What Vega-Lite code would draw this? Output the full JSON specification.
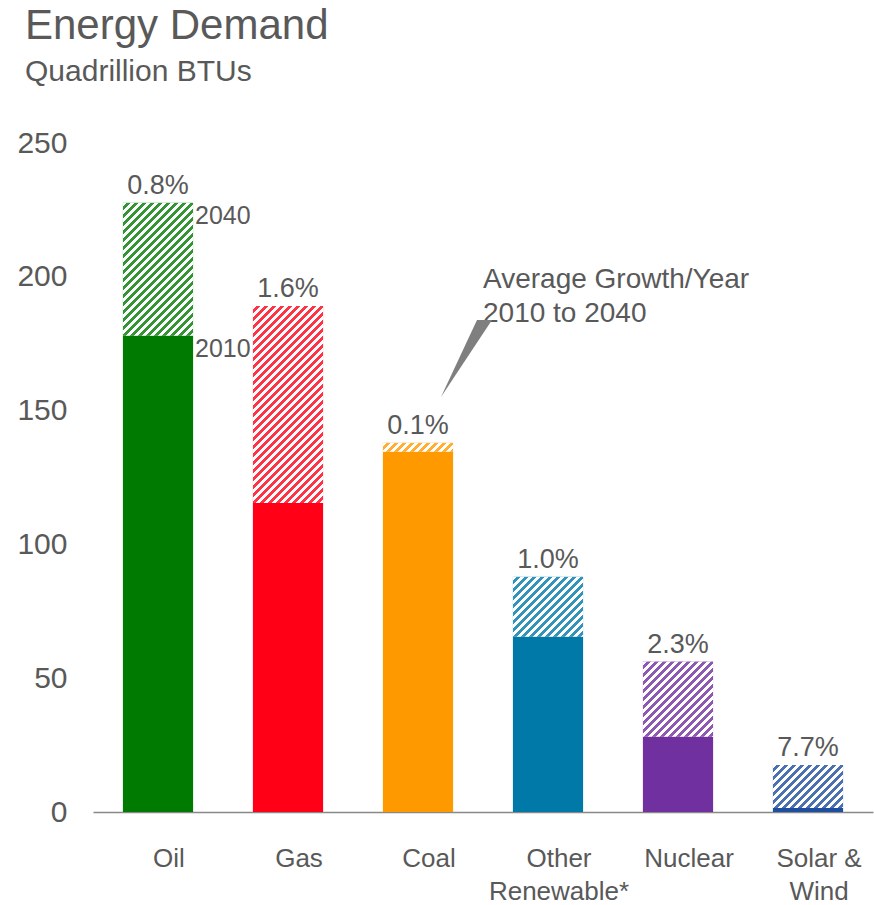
{
  "$schema": "https://vega.github.io/schema/vega-lite/v6.json",
  "autosize": "none",
  "width": 780,
  "height": 669,
  "padding": {"left": 93, "top": 143, "right": 1, "bottom": 93},
  "background": "#ffffff",
  "config": {"view": {"stroke": null}, "font": "Liberation Sans"},
  "title": {
    "text": "Energy Demand",
    "subtitle": "Quadrillion BTUs",
    "anchor": "start",
    "frame": "group",
    "font": "Liberation Sans",
    "subtitleFont": "Liberation Sans",
    "fontSize": 42,
    "subtitleFontSize": 30,
    "fontWeight": "normal",
    "color": "#595959",
    "subtitleColor": "#595959",
    "dx": -68,
    "offset": 40,
    "subtitlePadding": 9
  },
  "params": [
    {"name": "hatchStops", "value": [
      {"offset":0,"color":"#fff"},{"offset":0.0125,"color":"#fff"},{"offset":0.0125,"color":"rgba(255,255,255,0)"},{"offset":0.025,"color":"rgba(255,255,255,0)"},
      {"offset":0.025,"color":"#fff"},{"offset":0.0375,"color":"#fff"},{"offset":0.0375,"color":"rgba(255,255,255,0)"},{"offset":0.05,"color":"rgba(255,255,255,0)"},
      {"offset":0.05,"color":"#fff"},{"offset":0.0625,"color":"#fff"},{"offset":0.0625,"color":"rgba(255,255,255,0)"},{"offset":0.075,"color":"rgba(255,255,255,0)"},
      {"offset":0.075,"color":"#fff"},{"offset":0.0875,"color":"#fff"},{"offset":0.0875,"color":"rgba(255,255,255,0)"},{"offset":0.1,"color":"rgba(255,255,255,0)"},
      {"offset":0.1,"color":"#fff"},{"offset":0.1125,"color":"#fff"},{"offset":0.1125,"color":"rgba(255,255,255,0)"},{"offset":0.125,"color":"rgba(255,255,255,0)"},
      {"offset":0.125,"color":"#fff"},{"offset":0.1375,"color":"#fff"},{"offset":0.1375,"color":"rgba(255,255,255,0)"},{"offset":0.15,"color":"rgba(255,255,255,0)"},
      {"offset":0.15,"color":"#fff"},{"offset":0.1625,"color":"#fff"},{"offset":0.1625,"color":"rgba(255,255,255,0)"},{"offset":0.175,"color":"rgba(255,255,255,0)"},
      {"offset":0.175,"color":"#fff"},{"offset":0.1875,"color":"#fff"},{"offset":0.1875,"color":"rgba(255,255,255,0)"},{"offset":0.2,"color":"rgba(255,255,255,0)"},
      {"offset":0.2,"color":"#fff"},{"offset":0.2125,"color":"#fff"},{"offset":0.2125,"color":"rgba(255,255,255,0)"},{"offset":0.225,"color":"rgba(255,255,255,0)"},
      {"offset":0.225,"color":"#fff"},{"offset":0.2375,"color":"#fff"},{"offset":0.2375,"color":"rgba(255,255,255,0)"},{"offset":0.25,"color":"rgba(255,255,255,0)"},
      {"offset":0.25,"color":"#fff"},{"offset":0.2625,"color":"#fff"},{"offset":0.2625,"color":"rgba(255,255,255,0)"},{"offset":0.275,"color":"rgba(255,255,255,0)"},
      {"offset":0.275,"color":"#fff"},{"offset":0.2875,"color":"#fff"},{"offset":0.2875,"color":"rgba(255,255,255,0)"},{"offset":0.3,"color":"rgba(255,255,255,0)"},
      {"offset":0.3,"color":"#fff"},{"offset":0.3125,"color":"#fff"},{"offset":0.3125,"color":"rgba(255,255,255,0)"},{"offset":0.325,"color":"rgba(255,255,255,0)"},
      {"offset":0.325,"color":"#fff"},{"offset":0.3375,"color":"#fff"},{"offset":0.3375,"color":"rgba(255,255,255,0)"},{"offset":0.35,"color":"rgba(255,255,255,0)"},
      {"offset":0.35,"color":"#fff"},{"offset":0.3625,"color":"#fff"},{"offset":0.3625,"color":"rgba(255,255,255,0)"},{"offset":0.375,"color":"rgba(255,255,255,0)"},
      {"offset":0.375,"color":"#fff"},{"offset":0.3875,"color":"#fff"},{"offset":0.3875,"color":"rgba(255,255,255,0)"},{"offset":0.4,"color":"rgba(255,255,255,0)"},
      {"offset":0.4,"color":"#fff"},{"offset":0.4125,"color":"#fff"},{"offset":0.4125,"color":"rgba(255,255,255,0)"},{"offset":0.425,"color":"rgba(255,255,255,0)"},
      {"offset":0.425,"color":"#fff"},{"offset":0.4375,"color":"#fff"},{"offset":0.4375,"color":"rgba(255,255,255,0)"},{"offset":0.45,"color":"rgba(255,255,255,0)"},
      {"offset":0.45,"color":"#fff"},{"offset":0.4625,"color":"#fff"},{"offset":0.4625,"color":"rgba(255,255,255,0)"},{"offset":0.475,"color":"rgba(255,255,255,0)"},
      {"offset":0.475,"color":"#fff"},{"offset":0.4875,"color":"#fff"},{"offset":0.4875,"color":"rgba(255,255,255,0)"},{"offset":0.5,"color":"rgba(255,255,255,0)"},
      {"offset":0.5,"color":"#fff"},{"offset":0.5125,"color":"#fff"},{"offset":0.5125,"color":"rgba(255,255,255,0)"},{"offset":0.525,"color":"rgba(255,255,255,0)"},
      {"offset":0.525,"color":"#fff"},{"offset":0.5375,"color":"#fff"},{"offset":0.5375,"color":"rgba(255,255,255,0)"},{"offset":0.55,"color":"rgba(255,255,255,0)"},
      {"offset":0.55,"color":"#fff"},{"offset":0.5625,"color":"#fff"},{"offset":0.5625,"color":"rgba(255,255,255,0)"},{"offset":0.575,"color":"rgba(255,255,255,0)"},
      {"offset":0.575,"color":"#fff"},{"offset":0.5875,"color":"#fff"},{"offset":0.5875,"color":"rgba(255,255,255,0)"},{"offset":0.6,"color":"rgba(255,255,255,0)"},
      {"offset":0.6,"color":"#fff"},{"offset":0.6125,"color":"#fff"},{"offset":0.6125,"color":"rgba(255,255,255,0)"},{"offset":0.625,"color":"rgba(255,255,255,0)"},
      {"offset":0.625,"color":"#fff"},{"offset":0.6375,"color":"#fff"},{"offset":0.6375,"color":"rgba(255,255,255,0)"},{"offset":0.65,"color":"rgba(255,255,255,0)"},
      {"offset":0.65,"color":"#fff"},{"offset":0.6625,"color":"#fff"},{"offset":0.6625,"color":"rgba(255,255,255,0)"},{"offset":0.675,"color":"rgba(255,255,255,0)"},
      {"offset":0.675,"color":"#fff"},{"offset":0.6875,"color":"#fff"},{"offset":0.6875,"color":"rgba(255,255,255,0)"},{"offset":0.7,"color":"rgba(255,255,255,0)"},
      {"offset":0.7,"color":"#fff"},{"offset":0.7125,"color":"#fff"},{"offset":0.7125,"color":"rgba(255,255,255,0)"},{"offset":0.725,"color":"rgba(255,255,255,0)"},
      {"offset":0.725,"color":"#fff"},{"offset":0.7375,"color":"#fff"},{"offset":0.7375,"color":"rgba(255,255,255,0)"},{"offset":0.75,"color":"rgba(255,255,255,0)"},
      {"offset":0.75,"color":"#fff"},{"offset":0.7625,"color":"#fff"},{"offset":0.7625,"color":"rgba(255,255,255,0)"},{"offset":0.775,"color":"rgba(255,255,255,0)"},
      {"offset":0.775,"color":"#fff"},{"offset":0.7875,"color":"#fff"},{"offset":0.7875,"color":"rgba(255,255,255,0)"},{"offset":0.8,"color":"rgba(255,255,255,0)"},
      {"offset":0.8,"color":"#fff"},{"offset":0.8125,"color":"#fff"},{"offset":0.8125,"color":"rgba(255,255,255,0)"},{"offset":0.825,"color":"rgba(255,255,255,0)"},
      {"offset":0.825,"color":"#fff"},{"offset":0.8375,"color":"#fff"},{"offset":0.8375,"color":"rgba(255,255,255,0)"},{"offset":0.85,"color":"rgba(255,255,255,0)"}
    ]}
  ],
  "data": {
    "values": [
      {"cat": "Oil", "y2010": 178.0, "y2040": 227.7, "pct": "0.8%"},
      {"cat": "Gas", "y2010": 115.5, "y2040": 189.1, "pct": "1.6%"},
      {"cat": "Coal", "y2010": 134.6, "y2040": 138.0, "pct": "0.1%"},
      {"cat": "Other Renewable*", "y2010": 65.5, "y2040": 87.9, "pct": "1.0%"},
      {"cat": "Nuclear", "y2010": 28.1, "y2040": 56.2, "pct": "2.3%"},
      {"cat": "Solar & Wind", "y2010": 1.5, "y2040": 17.6, "pct": "7.7%"}
    ]
  },
  "encoding": {
    "x": {
      "field": "cat",
      "type": "nominal",
      "sort": null,
      "scale": {"paddingInner": 0.46, "paddingOuter": 0.23},
      "axis": {
        "title": null,
        "labelAngle": 0,
        "ticks": false,
        "tickSize": 0,
        "domain": true,
        "domainColor": "#898989",
        "domainWidth": 1.5,
        "labelFont": "Liberation Sans",
        "labelFontSize": 26,
        "labelColor": "#595959",
        "labelPadding": 33,
        "labelLineHeight": 33,
        "labelOffset": 11,
        "labelExpr": "datum.label == 'Other Renewable*' ? ['Other', 'Renewable*'] : datum.label == 'Solar & Wind' ? ['Solar &', 'Wind'] : datum.label"
      }
    }
  },
  "layer": [
    {
      "mark": {"type": "bar"},
      "encoding": {
        "y": {
          "field": "y2010",
          "type": "quantitative",
          "scale": {"domain": [0, 250], "nice": false},
          "axis": {
            "title": null,
            "values": [0, 50, 100, 150, 200, 250],
            "grid": false,
            "domain": false,
            "ticks": false,
            "tickSize": 0,
            "labelFont": "Liberation Sans",
            "labelFontSize": 30,
            "labelColor": "#595959",
            "labelPadding": 26
          }
        },
        "fill": {
          "field": "cat",
          "type": "nominal",
          "sort": null,
          "scale": {
            "domain": ["Oil", "Gas", "Coal", "Other Renewable*", "Nuclear", "Solar & Wind"],
            "range": ["#007A00", "#FF0016", "#FF9900", "#0078A8", "#7030A0", "#1F4E9E"]
          },
          "legend": null
        }
      }
    },
    {
      "mark": {"type": "bar", "fillOpacity": 0.8},
      "encoding": {
        "y": {"field": "y2040", "type": "quantitative"},
        "y2": {"field": "y2010"},
        "fill": {"field": "cat", "type": "nominal", "sort": null, "legend": null}
      }
    },
    {
      "mark": {
        "type": "bar",
        "fill": {"expr": "{gradient: 'linear', x1: 0, y1: 0, x2: 320 * bandwidth('x') / (pow(bandwidth('x'), 2) + pow(scale('y', datum.y2010) - scale('y', datum.y2040), 2)), y2: 320 * (scale('y', datum.y2010) - scale('y', datum.y2040)) / (pow(bandwidth('x'), 2) + pow(scale('y', datum.y2010) - scale('y', datum.y2040), 2)), stops: hatchStops}"}
      },
      "encoding": {
        "y": {"field": "y2040", "type": "quantitative"},
        "y2": {"field": "y2010"}
      }
    },
    {
      "mark": {"type": "text", "fontSize": 27, "color": "#595959", "baseline": "alphabetic", "align": "center", "dy": -9},
      "encoding": {
        "y": {"field": "y2040", "type": "quantitative"},
        "text": {"field": "pct"}
      }
    },
    {
      "transform": [{"filter": "datum.cat == 'Oil'"}],
      "mark": {"type": "text", "fontSize": 25, "color": "#595959", "baseline": "top", "align": "left", "dx": 37, "dy": 1},
      "encoding": {
        "y": {"field": "y2040", "type": "quantitative"},
        "text": {"value": "2040"}
      }
    },
    {
      "transform": [{"filter": "datum.cat == 'Oil'"}],
      "mark": {"type": "text", "fontSize": 25, "color": "#595959", "baseline": "top", "align": "left", "dx": 37, "dy": 1},
      "encoding": {
        "y": {"field": "y2010", "type": "quantitative"},
        "text": {"value": "2010"}
      }
    },
    {
      "data": {"values": [{"note": "Average Growth/Year|2010 to 2040"}]},
      "mark": {"type": "text", "fontSize": 28, "color": "#595959", "baseline": "alphabetic", "align": "left", "dx": 65, "lineBreak": "|", "lineHeight": 34},
      "encoding": {
        "x": {"datum": "Coal"},
        "y": {"datum": 195.8},
        "text": {"field": "note"}
      }
    },
    {
      "data": {"values": [{"note": "callout"}]},
      "mark": {"type": "point", "filled": true, "opacity": 1, "color": "#7F7F7F", "strokeWidth": 0, "size": 6400, "shape": "M0.575,0.9625L1.475,-0.9625L1.85,-0.9625Z"},
      "encoding": {
        "x": {"datum": "Coal"},
        "y": {"datum": 169.5}
      }
    }
  ]
}
